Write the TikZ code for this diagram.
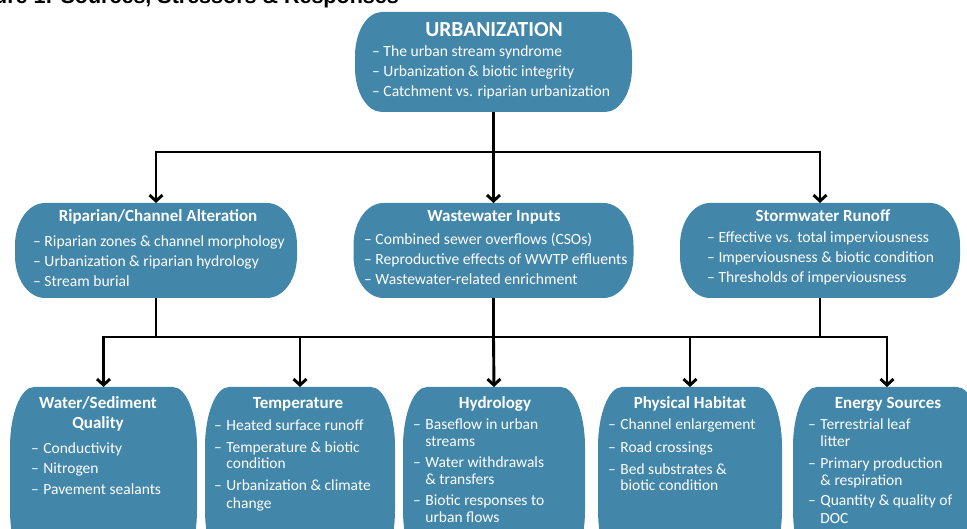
\documentclass[tikz,border=0pt]{standalone}
\usepackage{fontspec}
\setmainfont{Carlito}
\newfontfamily\titlefont{Liberation Sans}
\usetikzlibrary{arrows.meta}
\definecolor{boxblue}{RGB}{66,135,170}
\newcommand{\ellbox}[3]{%
  \fill[boxblue] ([xshift=#2]#1.north west) -- ([xshift=-#2]#1.north east)
    arc[start angle=90,end angle=0,x radius=#2,y radius=#3]
    -- ([yshift=#3]#1.south east)
    arc[start angle=0,end angle=-90,x radius=#2,y radius=#3]
    -- ([xshift=#2]#1.south west)
    arc[start angle=-90,end angle=-180,x radius=#2,y radius=#3]
    -- ([yshift=-#3]#1.north west)
    arc[start angle=180,end angle=90,x radius=#2,y radius=#3] -- cycle;}
\tikzset{
  boxnode/.style={rectangle, draw=none, inner sep=0pt, outer sep=0pt},
  headA/.style={text=white, font=\bfseries\fontsize{21.5}{24}\selectfont, inner sep=0pt, anchor=base},
  headB/.style={text=white, font=\bfseries\fontsize{17}{20.5}\selectfont, inner sep=0pt, anchor=base},
  listA/.style={text=white, font=\fontsize{15.6}{19.7}\selectfont, inner sep=0pt, anchor=base west},
  listB/.style={text=white, font=\fontsize{15.5}{17}\selectfont, inner sep=0pt, anchor=base west},
  wire/.style={line width=2.9pt, draw=black},
  arrowwire/.style={wire, -{Straight Barb[length=6pt,width=13pt]}},
}
\begin{document}
\begin{tikzpicture}[x=1pt,y=-1pt]
\useasboundingbox (0,0) rectangle (967,529);
\clip (0,0) rectangle (967,529);

% title (cut at top)
\node[anchor=base east, inner sep=0pt, font=\titlefont\bfseries\fontsize{21.5}{24}\selectfont] (title) at (399,4) {Figure 1: Sources, Stressors \& Responses};

% boxes
\node[boxnode, minimum width=277pt, minimum height=100pt] (urb) at (493.5,62) {};
\node[boxnode, minimum width=282pt, minimum height=95pt] (rip) at (156,250.5) {};
\node[boxnode, minimum width=280pt, minimum height=95pt] (waste) at (493.5,250.5) {};
\node[boxnode, minimum width=280pt, minimum height=95pt] (storm) at (820,250.5) {};
\node[boxnode, minimum width=187pt, minimum height=183pt] (ws) at (103.5,478.5) {};
\node[boxnode, minimum width=190pt, minimum height=183pt] (temp) at (300,478.5) {};
\node[boxnode, minimum width=182pt, minimum height=183pt] (hyd) at (494,478.5) {};
\node[boxnode, minimum width=184pt, minimum height=183pt] (phys) at (690,478.5) {};
\node[boxnode, minimum width=188pt, minimum height=183pt] (energy) at (887,478.5) {};

\ellbox{urb}{27pt}{44pt}
\ellbox{rip}{30pt}{42pt}
\ellbox{waste}{30pt}{42pt}
\ellbox{storm}{30pt}{42pt}
\ellbox{ws}{24pt}{60pt}
\ellbox{temp}{24pt}{60pt}
\ellbox{hyd}{24pt}{60pt}
\ellbox{phys}{24pt}{60pt}
\ellbox{energy}{24pt}{60pt}

% texts: top
\node[headA] (urbh) at (494,37) {URBANIZATION};
\node[listA] (urbl) at (372,57) {\begin{tabular}[t]{@{}l@{}}– The urban stream syndrome\\– Urbanization \& biotic integrity\\– Catchment vs. riparian urbanization\end{tabular}};

% row 2
\node[headB] (riph) at (158,222) {Riparian/Channel Alteration};
\node[listA] (ripl) at (33,247) {\begin{tabular}[t]{@{}l@{}}– Riparian zones \& channel morphology\\– Urbanization \& riparian hydrology\\– Stream burial\end{tabular}};
\node[headB] (wasteh) at (494,222) {Wastewater Inputs};
\node[listA] (wastel) at (364,245) {\begin{tabular}[t]{@{}l@{}}– Combined sewer overflows (CSOs)\\– Reproductive effects of WWTP effluents\\– Wastewater-related enrichment\end{tabular}};
\node[headB] (stormh) at (823,222) {Stormwater Runoff};
\node[listA] (storml) at (707,243) {\begin{tabular}[t]{@{}l@{}}– Effective vs. total imperviousness\\– Imperviousness \& biotic condition\\– Thresholds of imperviousness\end{tabular}};

% row 3
\node[headB] (wsh) at (98,408) {\begin{tabular}[t]{@{}c@{}}Water/Sediment\\Quality\end{tabular}};
\node[listB] (wsl) at (31,453) {\begin{tabular}[t]{@{}l@{\hspace{4.5pt}}l@{}}– & Conductivity\\[3.5pt]– & Nitrogen\\[3.5pt]– & Pavement sealants\end{tabular}};
\node[headB] (temph) at (298,408) {Temperature};
\node[listB] (templ) at (214,430) {\begin{tabular}[t]{@{}l@{\hspace{4.5pt}}l@{}}– & Heated surface runoff\\[5pt]– & Temperature \& biotic\\ & condition\\[5pt]– & Urbanization \& climate\\ & change\end{tabular}};
\node[headB] (hydh) at (495,408) {Hydrology};
\node[listB] (hydl) at (413,429) {\begin{tabular}[t]{@{}l@{\hspace{4.5pt}}l@{}}– & Baseflow in urban\\ & streams\\[4pt]– & Water withdrawals\\ & \& transfers\\[4pt]– & Biotic responses to\\ & urban flows\end{tabular}};
\node[headB] (physh) at (690,408) {Physical Habitat};
\node[listB] (physl) at (608,429) {\begin{tabular}[t]{@{}l@{\hspace{4.5pt}}l@{}}– & Channel enlargement\\[6pt]– & Road crossings\\[5pt]– & Bed substrates \&\\ & biotic condition\end{tabular}};
\node[headB] (energyh) at (888,408) {Energy Sources};
\node[listB] (energyl) at (808,429) {\begin{tabular}[t]{@{}l@{\hspace{4.5pt}}l@{}}– & Terrestrial leaf\\ & litter\\[5pt]– & Primary production\\ & \& respiration\\[4pt]– & Quantity \& quality of\\ & DOC\end{tabular}};

% connectors
\coordinate (busA) at (493.5,152);
\coordinate (busB) at (493.5,337);
\draw[wire] (urb.south) -- (busA);
\draw[arrowwire] (busA) -| (rip.north);
\draw[arrowwire] (busA) -| (storm.north);
\draw[arrowwire] (busA) -- (waste.north);
\draw[wire] (rip.south) -- (rip.south |- busB);
\draw[wire] (waste.south) -- (busB);
\draw[wire] (storm.south) -- (storm.south |- busB);
\draw[wire, line cap=rect] (ws.north |- busB) -- (energy.north |- busB);
\draw[arrowwire] (ws.north |- busB) -- (ws.north);
\draw[arrowwire] (temp.north |- busB) -- (temp.north);
\draw[arrowwire] (busB) -- (hyd.north);
\draw[arrowwire] (phys.north |- busB) -- (phys.north);
\draw[arrowwire] (energy.north |- busB) -- (energy.north);
\end{tikzpicture}
\end{document}
